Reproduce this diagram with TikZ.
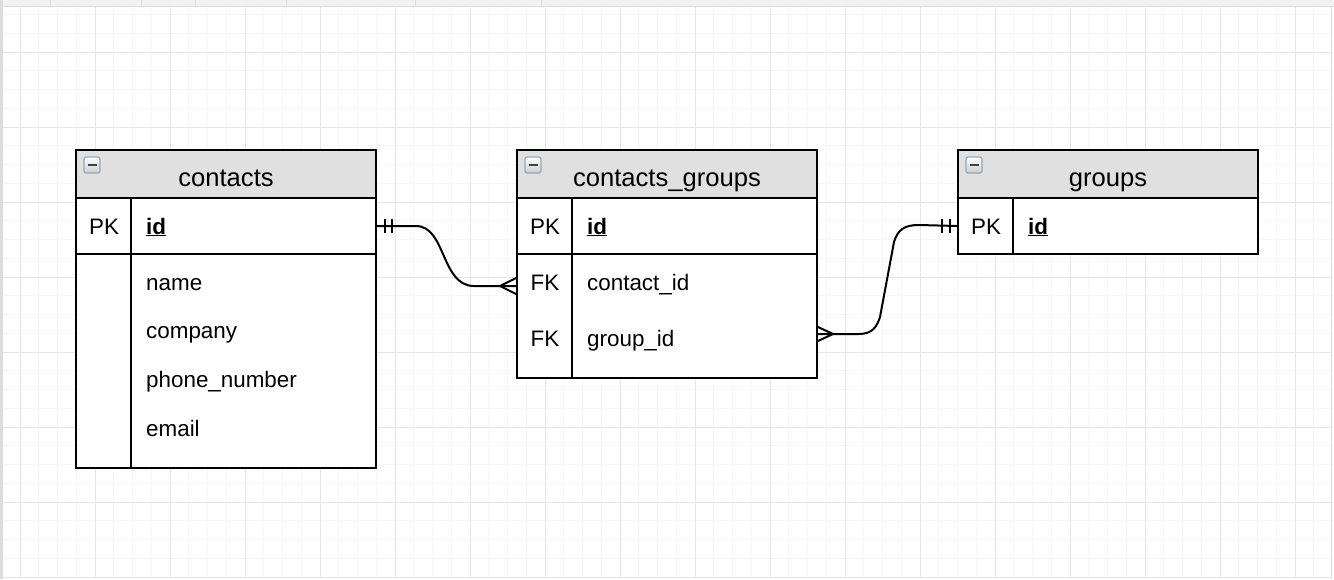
\documentclass[tikz,border=0pt]{standalone}
\usepackage{fontspec}
\setmainfont{Liberation Sans}
\usetikzlibrary{calc}
\definecolor{headgrey}{HTML}{E0E0E0}
\definecolor{minorgrid}{HTML}{F7F7F7}
\definecolor{majorgrid}{HTML}{E6E6E6}
\definecolor{frame}{HTML}{DCDCDC}
\definecolor{iconedge}{HTML}{98A8B8}

\begin{document}
\begin{tikzpicture}[x=1pt,y=-1pt,
    tabhead/.style={draw, line width=2pt, fill=headgrey, minimum width=300pt, minimum height=48pt, inner sep=0pt},
    tabrow/.style={draw, line width=2pt, fill=white, minimum width=300pt, inner sep=0pt},
    title/.style={font=\fontsize{25.6}{30}\selectfont, anchor=base, inner sep=0pt},
    field/.style={font=\fontsize{22.4}{26}\selectfont, anchor=base west, inner sep=0pt},
    keyname/.style={font=\fontsize{22.4}{26}\selectfont, anchor=base, inner sep=0pt},
    rel/.style={line width=2pt}]

        \useasboundingbox (0,0) rectangle (1334,579);

        % canvas and grid
        \fill[white] (0,0) rectangle (1334,579);
        \fill[frame!40] (0,0) rectangle (1334,6);
        \fill[frame] (0,0) rectangle (3,579);
        \draw[frame, line width=1pt] (0,6.5) -- (1334,6.5);
        \foreach \x in {50,141,195,286,415,541}
            \draw[frame, line width=0.8pt] (\x,0) -- (\x,6);
        \begin{scope}
            \clip (3,7) rectangle (1331,578);
            \foreach \i in {0,...,71}
                \draw[minorgrid, line width=1pt] ({1.25+18.75*\i},7) -- ({1.25+18.75*\i},578);
            \foreach \i in {0,...,31}
                \draw[minorgrid, line width=1pt] (3,{14.5+18.75*\i}) -- (1331,{14.5+18.75*\i});
            \foreach \i in {0,...,17}
                \draw[majorgrid, line width=1pt] ({20+75*\i},7) -- ({20+75*\i},578);
            \foreach \i in {0,...,7}
                \draw[majorgrid, line width=1pt] (3,{52+75*\i}) -- (1331,{52+75*\i});
        \end{scope}
        \draw[frame, line width=1pt] (1331,7) -- (1331,579);

        % contacts
        \node[tabhead] (cHead) at (226,174) {};
        \node[tabrow, minimum height=56pt] (cPk) at (226,226) {};
        \node[tabrow, minimum height=214pt] (cBody) at (226,361) {};
        \draw[line width=2pt] ($(cPk.north west)+(56,0)$) -- ($(cBody.south west)+(56,0)$);
        \node[title] (cTitle) at (226,186) {contacts};
        \node[keyname] (cPkKey) at (104,234) {PK};
        \node[field] (cId) at (146,234) {\underline{\textbf{id}}};
        \node[field] (cName) at (146,290) {name};
        \node[field] (cCompany) at (146,338) {company};
        \node[field] (cPhone) at (146,387) {phone\_number};
        \node[field] (cEmail) at (146,436) {email};

        % contacts_groups
        \node[tabhead] (cgHead) at (667,174) {};
        \node[tabrow, minimum height=56pt] (cgPk) at (667,226) {};
        \node[tabrow, minimum height=124pt] (cgBody) at (667,316) {};
        \draw[line width=2pt] ($(cgPk.north west)+(56,0)$) -- ($(cgBody.south west)+(56,0)$);
        \node[title] (cgTitle) at (667,186) {contacts\_groups};
        \node[keyname] (cgPkKey) at (545,234) {PK};
        \node[field] (cgId) at (587,234) {\underline{\textbf{id}}};
        \node[keyname] (cgFkOne) at (545,290) {FK};
        \node[field] (cgContact) at (587,290) {contact\_id};
        \node[keyname] (cgFkTwo) at (545,346) {FK};
        \node[field] (cgGroup) at (587,346) {group\_id};
        \coordinate (cgIn) at ($(cgBody.north west)+(0,33)$);
        \coordinate (cgOut) at ($(cgBody.north east)+(0,81)$);

        % groups
        \node[tabhead] (gHead) at (1108,174) {};
        \node[tabrow, minimum height=56pt] (gPk) at (1108,226) {};
        \draw[line width=2pt] ($(gPk.north west)+(56,0)$) -- ($(gPk.south west)+(56,0)$);
        \node[title] (gTitle) at (1108,186) {groups};
        \node[keyname] (gPkKey) at (986,234) {PK};
        \node[field] (gId) at (1028,234) {\underline{\textbf{id}}};

        % collapse icons
        \foreach \t in {cHead,cgHead,gHead} {
            \shade[top color=white, bottom color=gray!40, draw=iconedge, line width=1.2pt, rounded corners=2pt]
                ($(\t.north west)+(9,8)$) rectangle ++(16,16);
            \draw[black!75, line width=2.4pt] ($(\t.north west)+(12.5,16)$) -- ++(9,0);
        }

        % contacts -> contacts_groups
        \draw[rel] (cPk.east) -- ++(39,0) .. controls +(30,0) and +(-33,0) .. ($(cgIn)+(-42,0)$) -- (cgIn);
        \draw[rel] ($(cPk.east)+(8,-7)$) -- +(0,14) ($(cPk.east)+(15,-7)$) -- +(0,14);
        \draw[rel] ($(cgIn)+(0,-8)$) -- ($(cgIn)+(-16,0)$) -- ($(cgIn)+(0,8)$);

        % contacts_groups -> groups
        \draw[rel] (cgOut) -- ++(41,0) .. controls +(14,0) and +(-3,9) .. ++(21,-17) -- ++(14,-75)
            .. controls +(4,-13) and +(-14,0) .. ++(25,-17) -- (gPk.west);
        \draw[rel] ($(cgOut)+(0,-7)$) -- ($(cgOut)+(15,0)$) -- ($(cgOut)+(0,7)$);
        \draw[rel] ($(gPk.west)+(-15,-7)$) -- +(0,14) ($(gPk.west)+(-7,-7)$) -- +(0,14);

\end{tikzpicture}
\end{document}
